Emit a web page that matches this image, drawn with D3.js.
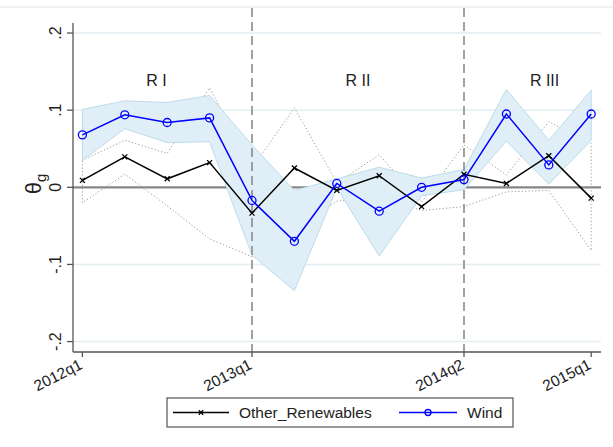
<!DOCTYPE html>
<html><head><meta charset="utf-8">
<script src="https://cdn.jsdelivr.net/npm/d3@7"></script>
<style>html,body{margin:0;padding:0;background:#fff;}svg{display:block;font-family:"Liberation Sans",Arial,sans-serif;}</style>
</head><body>
<script>
const quarters = ["2012q1","2012q2","2012q3","2012q4","2013q1","2013q2","2013q3","2013q4","2014q1","2014q2","2014q3","2014q4","2015q1"];
const windVals = [0.068, 0.094, 0.084, 0.090, -0.017, -0.070, 0.005, -0.031, 0.000, 0.010, 0.095, 0.029, 0.095];
const windHi   = [0.101, 0.112, 0.110, 0.119, 0.055, -0.004, 0.011, 0.026, 0.012, 0.023, 0.127, 0.061, 0.126];
const windLo   = [0.035, 0.076, 0.058, 0.059, -0.088, -0.134, -0.001, -0.089, -0.011, -0.003, 0.060, 0.004, 0.061];
const otherVals = [0.009, 0.0395, 0.011, 0.032, -0.0335, 0.025, -0.004, 0.015, -0.025, 0.017, 0.005, 0.041, -0.014];
const otherHi   = [0.035, 0.061, 0.044, 0.129, 0.025, 0.103, 0.006, 0.042, -0.019, 0.055, 0.016, 0.085, 0.057];
const otherLo   = [-0.020, 0.017, -0.024, -0.067, -0.090, -0.053, -0.018, -0.012, -0.030, -0.025, -0.006, -0.004, -0.082];
const xTickLabels = ["2012q1","2013q1","2014q2","2015q1"];
const yTickValues = [-0.2, -0.1, 0, 0.1, 0.2];
const yTickLabels = ["-.2", "-.1", "0", ".1", ".2"];
const breakQuarters = ["2013q1","2014q2"];
const regimeLabels = ["R I", "R II", "R III"];
const regimeCenters = [1.75, 6.5, 10.9];
const seriesNames = ["Other_Renewables", "Wind"];

const W = 613, H = 447;
const svg = d3.select("body").append("svg").attr("width", W).attr("height", H);

const x = d3.scaleLinear().domain([0, 12]).range([82.4, 591.2]);
const y = d3.scaleLinear().domain([-0.2135, 0.213]).range([352, 23]);
const idx = q => quarters.indexOf(q);
const plotL = 73, plotR = 601;

// outer faint top border
svg.append("line").attr("x1", 0).attr("x2", W).attr("y1", 7).attr("y2", 7)
  .attr("stroke", "#ececec").attr("stroke-width", 1.5);

// gridlines
svg.append("g").selectAll("line").data(yTickValues.filter(v => v !== 0)).join("line")
  .attr("x1", plotL).attr("x2", plotR).attr("y1", d => y(d)).attr("y2", d => y(d))
  .attr("stroke", "#e4eef3").attr("stroke-width", 1.5);
// zero line
svg.append("line").attr("x1", plotL).attr("x2", plotR).attr("y1", y(0)).attr("y2", y(0))
  .attr("stroke", "#868686").attr("stroke-width", 2.2);

// other renewables CI (dotted outline)
const idxs = d3.range(quarters.length);
const ciPoly = idxs.map(i => [x(i), y(otherHi[i])]).concat(idxs.slice().reverse().map(i => [x(i), y(otherLo[i])]));
svg.append("path").attr("d", d3.line()(ciPoly) + "Z")
  .attr("fill", "none").attr("stroke", "#9a9a9a").attr("stroke-width", 1).attr("stroke-dasharray", "1.2,2.2");

// wind CI band
const area = d3.area().x(i => x(i)).y0(i => y(windLo[i])).y1(i => y(windHi[i]));
svg.append("path").datum(idxs).attr("d", area)
  .attr("fill", "#e0eff7").attr("stroke", "#bcdcea").attr("stroke-width", 1);

// regime break dashed lines
svg.append("g").selectAll("line").data(breakQuarters).join("line")
  .attr("x1", d => x(idx(d))).attr("x2", d => x(idx(d))).attr("y1", 8).attr("y2", 352)
  .attr("stroke", "#8a8a8a").attr("stroke-width", 1.6).attr("stroke-dasharray", "9,5");

// regime labels
svg.append("g").selectAll("text").data(regimeLabels).join("text")
  .attr("x", (d, i) => x(regimeCenters[i])).attr("y", 86)
  .attr("text-anchor", "middle").attr("font-size", 16).attr("fill", "#222").text(d => d);

// axes
svg.append("line").attr("x1", plotL).attr("x2", plotL).attr("y1", 23).attr("y2", 352)
  .attr("stroke", "#555").attr("stroke-width", 1.3);
svg.append("line").attr("x1", plotL).attr("x2", plotR).attr("y1", 352).attr("y2", 352)
  .attr("stroke", "#555").attr("stroke-width", 1.3);

// y ticks
const yt = svg.append("g");
yt.selectAll("line").data(yTickValues).join("line")
  .attr("x1", 67).attr("x2", plotL).attr("y1", d => y(d)).attr("y2", d => y(d))
  .attr("stroke", "#555").attr("stroke-width", 1.3);
yt.selectAll("text").data(yTickValues).join("text")
  .attr("transform", d => `translate(61,${y(d)}) rotate(-90)`)
  .attr("text-anchor", "middle").attr("font-size", 16).attr("fill", "#222")
  .text((d, i) => yTickLabels[i]);

// x ticks
const xt = svg.append("g");
xt.selectAll("line").data(xTickLabels).join("line")
  .attr("x1", d => x(idx(d))).attr("x2", d => x(idx(d))).attr("y1", 352).attr("y2", 357)
  .attr("stroke", "#555").attr("stroke-width", 1.3);
xt.selectAll("text").data(xTickLabels).join("text")
  .attr("transform", d => `translate(${x(idx(d)) + 1},${368}) rotate(-27)`)
  .attr("text-anchor", "end").attr("font-size", 15.5).attr("fill", "#222").text(d => d);

// y axis title
const yTitle = svg.append("text").attr("transform", "translate(41,184) rotate(-90)")
  .attr("text-anchor", "middle").attr("font-size", 22).attr("fill", "#222");
yTitle.append("tspan").text("θ");
yTitle.append("tspan").attr("font-size", 15).attr("dy", 5).text("g");

// lines
const line = vals => d3.line().x(i => x(i)).y(i => y(vals[i]))(idxs);
svg.append("path").attr("d", line(otherVals)).attr("fill", "none").attr("stroke", "#000").attr("stroke-width", 1.5);
svg.append("path").attr("d", line(windVals)).attr("fill", "none").attr("stroke", "#0000ff").attr("stroke-width", 1.5);

// x markers
const xMark = (g, cx, cy, s) => {
  g.append("path").attr("d", `M${cx - s},${cy - s}L${cx + s},${cy + s}M${cx - s},${cy + s}L${cx + s},${cy - s}`)
    .attr("stroke", "#000").attr("stroke-width", 1.3);
};
const om = svg.append("g");
idxs.forEach(i => xMark(om, x(i), y(otherVals[i]), 2.5));
svg.append("g").selectAll("circle").data(idxs).join("circle")
  .attr("cx", i => x(i)).attr("cy", i => y(windVals[i])).attr("r", 4)
  .attr("fill", "none").attr("stroke", "#0000ff").attr("stroke-width", 1.3);

// legend
const lg = svg.append("g");
lg.append("rect").attr("x", 167).attr("y", 398).attr("width", 346).attr("height", 29)
  .attr("fill", "#fff").attr("stroke", "#333").attr("stroke-width", 1);
const ly = 412.5;
lg.append("line").attr("x1", 173).attr("x2", 229).attr("y1", ly).attr("y2", ly).attr("stroke", "#000").attr("stroke-width", 1.5);
xMark(lg, 201, ly, 2.2);
lg.append("text").attr("x", 239).attr("y", ly + 5.5).attr("font-size", 15.5).attr("fill", "#222").text(seriesNames[0]);
lg.append("line").attr("x1", 399).attr("x2", 457).attr("y1", ly).attr("y2", ly).attr("stroke", "#0000ff").attr("stroke-width", 1.5);
lg.append("circle").attr("cx", 428).attr("cy", ly).attr("r", 3).attr("fill", "none").attr("stroke", "#0000ff").attr("stroke-width", 1.3);
lg.append("text").attr("x", 467).attr("y", ly + 5.5).attr("font-size", 15.5).attr("fill", "#222").text(seriesNames[1]);
</script>
</body></html>
